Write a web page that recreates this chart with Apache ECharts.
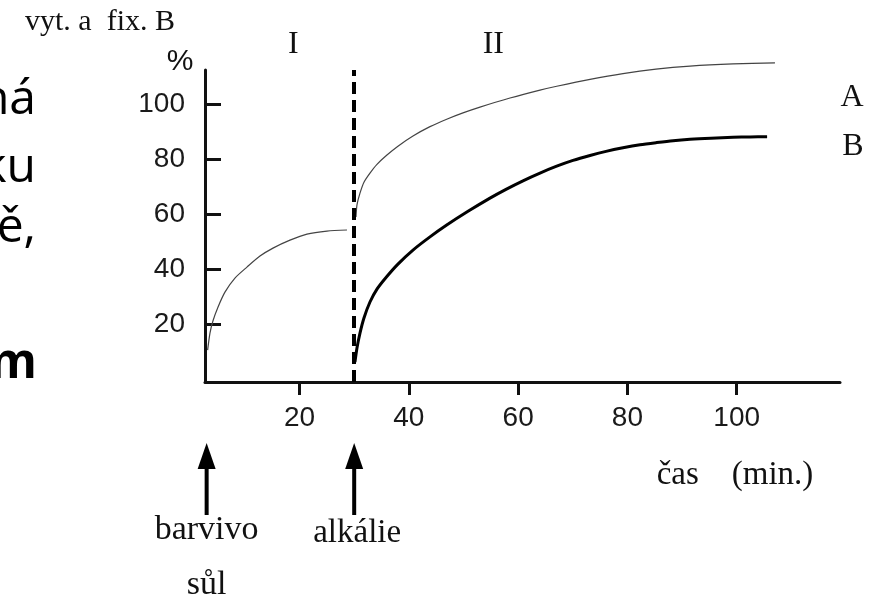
<!DOCTYPE html>
<html><head><meta charset="utf-8">
<script src="https://cdn.jsdelivr.net/npm/echarts@6/dist/echarts.min.js"></script>
<style>html,body{margin:0;padding:0;background:#fff}#c{width:879px;height:614px}</style>
</head><body><div id="c"></div>
<script>
// ---- data ----
const xTicks = [20, 40, 60, 80, 100];
const yTicks = [20, 40, 60, 80, 100];
const phaseI_x = [3.18, 3.61, 4.15, 5.07, 6.35, 8.18, 10.38, 12.76, 15.14, 18.25, 21.36, 25.02, 28.68];
const phaseI_y = [10.6, 16.8, 21.2, 26.2, 31.7, 36.8, 40.8, 44.8, 47.7, 50.6, 52.8, 53.9, 54.3];
const curveA_x = [30.33, 30.51, 31.06, 31.79, 32.89, 34.17, 35.94, 38.01, 40.76, 43.87, 46.93, 49.91,
                  53.02, 58.51, 64.0, 67.06, 73.16, 79.19, 85.23, 91.45, 99.32, 107.0];
const curveA_y = [59.0, 63.4, 67.7, 71.7, 75.0, 78.2, 81.5, 84.8, 88.5, 91.9, 94.6, 96.9,
                  99.0, 102.3, 105.2, 106.6, 109.1, 111.2, 112.8, 113.9, 114.7, 115.1];
const curveB_x = [30.14, 30.51, 31.06, 31.79, 32.89, 34.17, 35.94, 38.01, 40.76, 43.87, 46.93, 50.83,
                  54.85, 57.78, 60.89, 64.0, 67.06, 70.04, 73.16, 76.09, 79.19, 82.31, 85.36, 88.35,
                  91.45, 95.28, 99.32, 102.45, 105.56];
const curveB_y = [6.3, 11.4, 16.8, 22.3, 28.1, 32.8, 37.3, 41.9, 47.0, 51.8, 56.1, 61.1,
                  65.9, 69.1, 72.2, 75.0, 77.5, 79.6, 81.4, 82.9, 84.2, 85.3, 86.1, 86.8,
                  87.3, 87.7, 88.0, 88.15, 88.25];
const dyeTime = 3;
const alkaliTime = 30;
const phaseLabels = ['I', 'II'];
const curveLabels = ['A', 'B'];

const zip = (xs, ys) => xs.map((x, i) => [x, ys[i]]);
const chart = echarts.init(document.getElementById('c'));
const SANS = '"Liberation Sans", Arial, sans-serif';
const SERIF = '"Liberation Serif", "Times New Roman", serif';
const SLIDE = '"Open Sans", "Noto Sans", sans-serif';

chart.setOption({
  animation: false,
  backgroundColor: '#fff',
  grid: { left: 205, right: 39, top: 70, bottom: 232 },
  xAxis: {
    type: 'value', min: 2.7, max: 118.9,
    axisLine: { onZero: false, lineStyle: { color: '#111', width: 3 } },
    axisTick: { show: true, inside: false, length: 13, lineStyle: { color: '#111', width: 3 }, customValues: xTicks },
    axisLabel: { customValues: xTicks, margin: 22, fontSize: 28, fontFamily: SANS, color: '#1a1a1a' },
    splitLine: { show: false }
  },
  yAxis: {
    type: 'value', min: -1, max: 112.5,
    axisLine: { show: true, onZero: false, lineStyle: { color: '#111', width: 3 } },
    axisTick: { show: true, inside: true, length: 16, lineStyle: { color: '#111', width: 3 }, customValues: yTicks },
    axisLabel: { customValues: yTicks, margin: 20, fontSize: 28, fontFamily: SANS, color: '#1a1a1a' },
    splitLine: { show: false }
  },
  series: [
    { name: 'I', type: 'line', data: zip(phaseI_x, phaseI_y), smooth: 0.25,
      symbol: 'none', clip: false, lineStyle: { color: '#444', width: 1.2 } },
    { name: 'A', type: 'line', data: zip(curveA_x, curveA_y), smooth: 0.25,
      symbol: 'none', clip: false, lineStyle: { color: '#444', width: 1.2 } },
    { name: 'B', type: 'line', data: zip(curveB_x, curveB_y), smooth: 0.25,
      symbol: 'none', clip: false, lineStyle: { color: '#000', width: 3 },
      markLine: { silent: true, symbol: 'none', label: { show: false },
        lineStyle: { type: [12, 6], width: 4, color: '#000' },
        data: [{ xAxis: alkaliTime }] } }
  ]
});

const px = v => chart.convertToPixel({ gridIndex: 0 }, v);
const pDye = px([dyeTime, 0]);
const pAlk = px([alkaliTime, 0]);
const pI = px([(dyeTime + alkaliTime) / 2, 0]);
const pII = px([54, 0]);

function arrow(x) {
  return [
    { type: 'line', shape: { x1: x, y1: 462, x2: x, y2: 515 }, style: { stroke: '#000', lineWidth: 4 } },
    { type: 'polygon', shape: { points: [[x, 443], [x - 9, 469], [x + 9, 469]] }, style: { fill: '#000' } }
  ];
}
function txt(text, x, y, size, font, opts) {
  return { type: 'text', x: x, y: y, style: Object.assign({ text: text, fontSize: size, fontFamily: font,
    fill: '#111', align: 'center', verticalAlign: 'middle' }, opts || {}) };
}

chart.setOption({
  graphic: [
    // slide text fragments on the left edge
    txt('ná', 36, 100, 48, SLIDE, { align: 'right', fill: '#000' }),
    txt('ku', 36, 168, 48, SLIDE, { align: 'right', fill: '#000' }),
    txt('ě,', 36, 228, 48, SLIDE, { align: 'right', fill: '#000' }),
    txt('m', 37, 364, 48, SLIDE, { align: 'right', fill: '#000', fontWeight: 'bold' }),
    txt('vyt. a  fix. B', 100, 22, 30, SERIF),
    txt('%', 180, 62, 30, SANS),
    txt(phaseLabels[0], pI[0] + 13, 45, 32, SERIF),
    txt(phaseLabels[1], pII[0] + 8, 45, 32, SERIF),
    txt(curveLabels[0], 852, 98, 32, SERIF),
    txt(curveLabels[1], 853, 147, 32, SERIF),
    txt('čas    (min.)', 735, 475, 33, SERIF),
    ...arrow(pDye[0]),
    ...arrow(pAlk[0]),
    txt('barvivo', pDye[0], 530, 34, SERIF),
    txt('sůl', pDye[0], 585, 34, SERIF),
    txt('alkálie', pAlk[0] + 3, 533, 33, SERIF)
  ]
});
</script>
</body></html>
